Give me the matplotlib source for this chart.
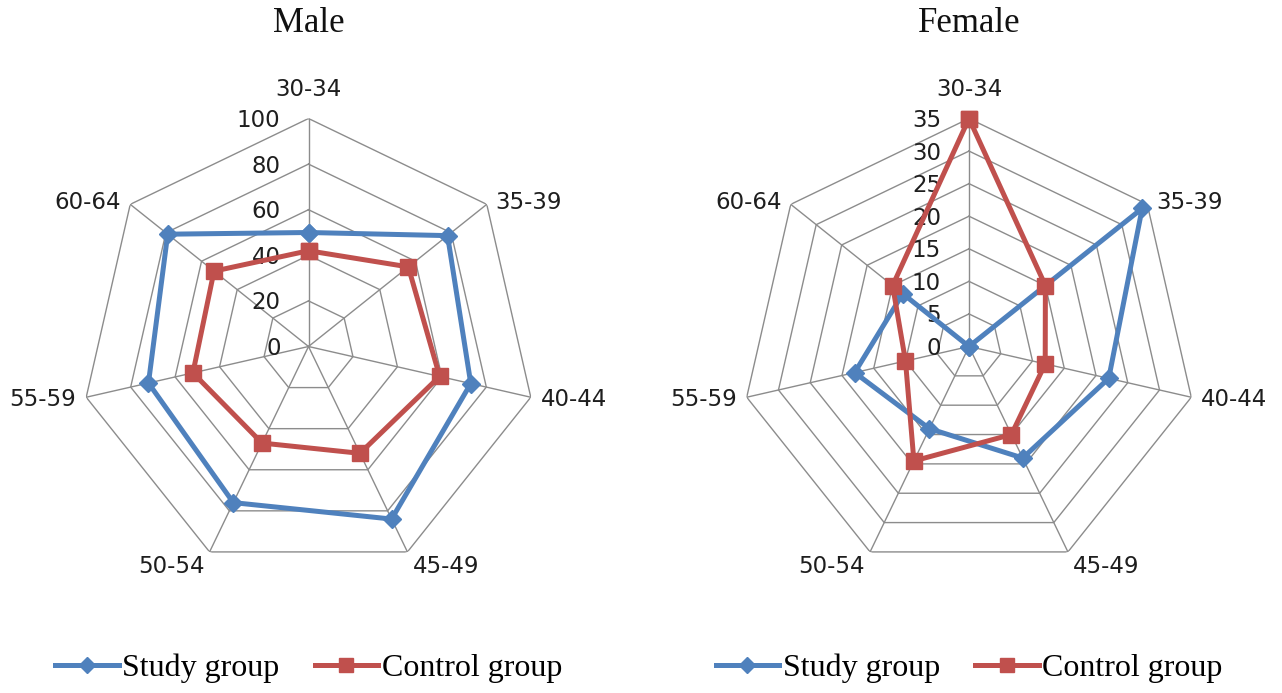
import numpy as np
import matplotlib
matplotlib.use("Agg")
from matplotlib import pyplot as plt
from matplotlib import transforms

ages = ["30-34", "35-39", "40-44", "45-49", "50-54", "55-59", "60-64"]

male_study = [50, 78, 73, 84, 76, 72, 79]
male_control = [42, 56, 59, 52, 47, 52, 53]
male_ticks = [0, 20, 40, 60, 80, 100]

female_study = [0, 34, 22, 19, 14, 18, 13]
female_control = [35, 15, 12, 15, 19.5, 10, 15]
female_ticks = [0, 5, 10, 15, 20, 25, 30, 35]

BLUE = "#4F81BD"
RED = "#C0504D"
GRID = "#8c8c8c"
INK = "#1e1e1e"
SERIF = "Liberation Serif"
SANS = "DejaVu Sans"

W, H = 1282, 693
R = 228
CY = 346.5

# label placement per spoke: (dx, dy) in pixels and alignment
label_pos = [(0, 18, "center", "bottom"), (9, 2, "left", "center"),
             (10, -2, "left", "center"), (5, -3, "left", "top"),
             (-5, -3, "right", "top"), (-10, -2, "right", "center"),
             (-9, 2, "right", "center")]


def radar(fig, cx, ticks, study, control, title):
    ax = fig.add_axes([(cx - R) / W, (H - CY - R) / H, 2 * R / W, 2 * R / H],
                      projection="polar")
    n = len(ages)
    theta = np.linspace(0, 2 * np.pi, n, endpoint=False)
    tc = np.append(theta, theta[0])
    rmax = ticks[-1]
    ax.set_theta_zero_location("N")
    ax.set_theta_direction(-1)
    ax.set_ylim(0, rmax)
    ax.grid(False)
    ax.spines["polar"].set_visible(False)
    ax.set_xticks([])
    ax.set_yticks([])
    ax.patch.set_alpha(0)

    # heptagon rings and spokes
    for v in ticks[1:]:
        ax.plot(tc, [v] * (n + 1), color=GRID, lw=1, zorder=1)
    for t in theta:
        ax.plot([t, t], [0, rmax], color=GRID, lw=1, zorder=1)

    # radial tick labels, left of the vertical spoke
    off = transforms.offset_copy(ax.transData, fig=fig, x=-28, y=-2, units="dots")
    for v in ticks:
        ax.text(0, v, str(v), transform=off, ha="right", va="center",
                fontsize=16.5, family=SANS, color=INK, zorder=2)

    # category labels at the outer vertices
    for t, lab, (dx, dy, ha, va) in zip(theta, ages, label_pos):
        tr = transforms.offset_copy(ax.transData, fig=fig, x=dx, y=dy, units="dots")
        ax.text(t, rmax, lab, transform=tr, ha=ha, va=va, fontsize=16.5,
                family=SANS, color=INK)

    s = np.append(study, study[0])
    c = np.append(control, control[0])
    ax.plot(tc, s, color=BLUE, lw=3.6, marker="D", ms=9, mec=BLUE,
            label="Study group", zorder=3, clip_on=False)
    ax.plot(tc, c, color=RED, lw=3.6, marker="s", ms=12, mec=RED,
            label="Control group", zorder=4, clip_on=False)

    fig.text(cx / W, 1 - 23 / H, title, ha="center", va="center",
             fontsize=25, family=SERIF, color="#111111")
    handles, labels = ax.get_legend_handles_labels()
    fig.legend(handles, labels, loc="center", bbox_to_anchor=(cx / W, 1 - 668 / H),
               ncol=2, frameon=False, handlelength=2.0, handletextpad=0.1,
               columnspacing=1.1, markerscale=0.85,
               prop={"family": SERIF, "size": 23})
    return ax


fig = plt.figure(figsize=(W / 100, H / 100), dpi=100)
radar(fig, 308.5, male_ticks, male_study, male_control, "Male")
radar(fig, 969, female_ticks, female_study, female_control, "Female")
fig.savefig("out.png", dpi=100)
